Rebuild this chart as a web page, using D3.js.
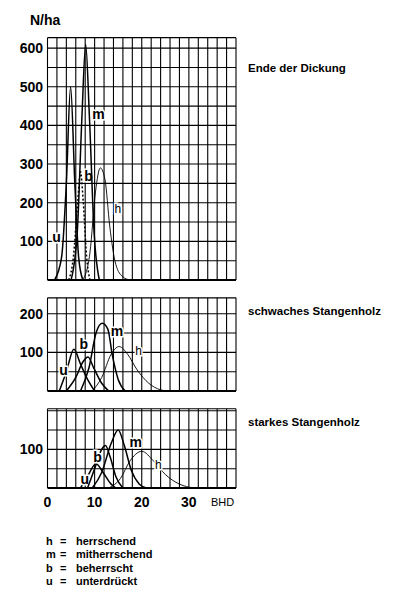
<!DOCTYPE html>
<html><head><meta charset="utf-8">
<script src="https://cdn.jsdelivr.net/npm/d3@7"></script>
<style>body{margin:0;background:#fff}text{font-family:"Liberation Sans",Arial,sans-serif}</style>
</head><body><svg width="400" height="599"></svg>
<script>
// panel definitions
var panelTitles = ["Ende der Dickung", "schwaches Stangenholz", "starkes Stangenholz"];
var panelMax = [627, 241, 205];
var panelTicks = [[100, 200, 300, 400, 500, 600], [100, 200], [100]];
var xTicks = [0, 10, 20, 30];

// curves: [BHD, N/ha] points
var dickU = [[1.5,0],[3,60],[4,250],[4.9,500],[5.8,250],[6.6,60],[7.5,0]];
var dickB = [[4.5,0],[5.5,60],[6.4,200],[7,280],[7.6,200],[8.3,60],[9,0]];
var dickM = [[5,0],[6.3,120],[7.3,420],[8.1,610],[8.9,420],[9.9,120],[11,0]];
var dickH = [[7.5,0],[9,70],[10.2,230],[11.2,290],[12.2,260],[13.2,140],[14.5,40],[16,8],[17.5,0]];

var schU = [[2.5,0],[4,50],[5.6,108],[7,70],[8.5,30],[10,0]];
var schB = [[4,0],[6,35],[7.5,75],[8.6,88],[9.8,60],[11.5,20],[13,0]];
var schM = [[7,0],[8.8,60],[10.3,150],[11.6,175],[12.8,160],[13.8,90],[15,30],[16.5,0]];
var schH = [[9.5,0],[11.5,35],[13.5,95],[15.2,115],[17,95],[19,55],[21.5,20],[24,3],[25.5,0]];

var stkU = [[7,0],[8.5,30],[10.3,63],[11.8,40],[13.5,10],[14.5,0]];
var stkB = [[8.5,0],[10,50],[11.5,100],[12.3,110],[13.3,80],[14.5,30],[16,0]];
var stkM = [[9.5,0],[11.5,40],[13.5,115],[15,150],[16.3,110],[17.8,45],[19.5,10],[21,0]];
var stkH = [[13,0],[15.5,25],[17.5,70],[20,95],[22.5,70],[25,35],[28,10],[31,0]];

var curveSets = [
  [{k:"u", d:dickU}, {k:"b", d:dickB, dash:"2,2"}, {k:"m", d:dickM}, {k:"h", d:dickH}],
  [{k:"u", d:schU}, {k:"b", d:schB}, {k:"m", d:schM}, {k:"h", d:schH}],
  [{k:"u", d:stkU}, {k:"b", d:stkB}, {k:"m", d:stkM}, {k:"h", d:stkH}]
];
// label anchors [BHD, N/ha]
var labelPos = [
  [[1.0,110],[7.8,270],[9.5,430],[14.2,185]],
  [[2.5,55],[6.8,122],[13.4,155],[18.6,105]],
  [[7.0,22],[9.7,80],[17.4,118],[22.8,62]]
];
var legendKeys = ["h", "m", "b", "u"];
var legendNames = ["herrschend", "mitherrschend", "beherrscht", "unterdrückt"];

var svg = d3.select("svg");
var x = d3.scaleLinear().domain([0, 40]).range([47.5, 236]);
var unit = 0.3865; // px per N/ha
var bottoms = [280, 391, 488];

panelMax.forEach(function(mx, p) {
	var y = d3.scaleLinear().domain([0, mx]).range([bottoms[p], bottoms[p] - mx * unit]);
	var g = svg.append("g");

	// grid
	g.selectAll("line.v").data(d3.range(0, 41, 2)).enter().append("line")
		.attr("x1", d => x(d)).attr("x2", d => x(d))
		.attr("y1", y(0)).attr("y2", y(mx))
		.attr("stroke", "#000").attr("stroke-width", 1.1);
	g.selectAll("line.h").data(d3.range(0, mx, 50).concat([mx])).enter().append("line")
		.attr("x1", x(0)).attr("x2", x(40))
		.attr("y1", d => y(d)).attr("y2", d => y(d))
		.attr("stroke", "#000").attr("stroke-width", d => (d == 0 ? 1.8 : 1.1));

	g.selectAll("text.yt").data(panelTicks[p]).enter().append("text")
		.attr("x", 43).attr("y", d => y(d) + 5)
		.attr("text-anchor", "end").attr("font-size", 14).attr("font-weight", "bold")
		.text(d => d);

	var line = d3.line().x(d => x(d[0])).y(d => y(d[1])).curve(d3.curveMonotoneX);
	curveSets[p].forEach(function(c, i) {
		g.append("path").attr("d", line(c.d))
			.attr("fill", "none").attr("stroke", "#000")
			.attr("stroke-width", c.k == "h" ? 0.9 : 1.5)
			.attr("stroke-dasharray", c.dash || null);
		var lp = labelPos[p][i];
		g.append("text").attr("x", x(lp[0])).attr("y", y(lp[1]) + 5)
			.attr("font-size", c.k == "h" ? 12 : 14).attr("font-weight", c.k == "h" ? "normal" : "bold")
			.attr("stroke", "#fff").attr("stroke-width", 3).attr("paint-order", "stroke")
			.text(c.k);
	});

	svg.append("text").attr("x", 248).attr("y", y(mx) + (p == 0 ? 34 : 17))
		.attr("font-size", 11.5).attr("font-weight", "bold").text(panelTitles[p]);
});

svg.append("text").attr("x", 30).attr("y", 25).attr("font-size", 14).attr("font-weight", "bold").text("N/ha");

svg.selectAll("text.xt").data(xTicks).enter().append("text")
	.attr("x", d => x(d)).attr("y", 507).attr("text-anchor", "middle")
	.attr("font-size", 14).attr("font-weight", "bold").text(d => d);
svg.append("text").attr("x", 211).attr("y", 506).attr("font-size", 11).text("BHD");

var leg = svg.selectAll("g.leg").data(legendKeys).enter().append("g")
	.attr("transform", (d, i) => "translate(0," + (545 + i * 13.3) + ")")
	.attr("font-size", 11).attr("font-weight", "bold");
leg.append("text").attr("x", 46).text(d => d);
leg.append("text").attr("x", 60).text("=");
leg.append("text").attr("x", 76).text((d, i) => legendNames[i]);
</script></body></html>
